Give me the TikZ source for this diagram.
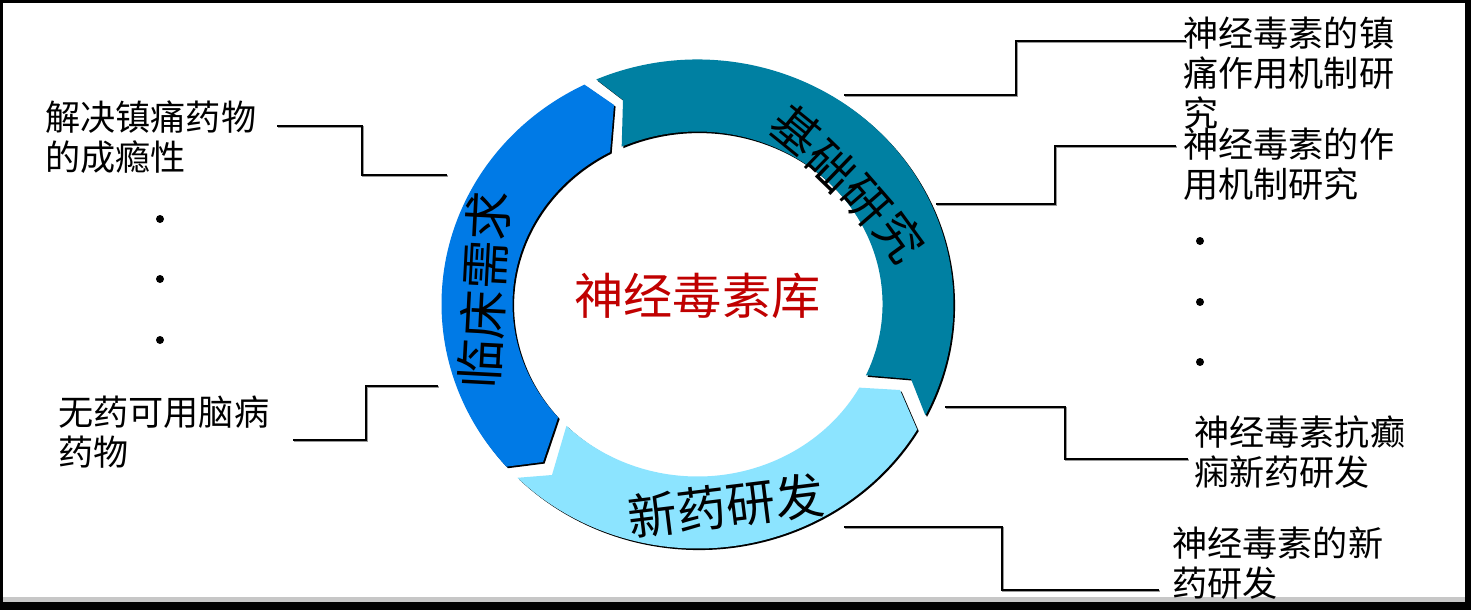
\documentclass[tikz,border=0pt]{standalone}
\usepackage{fontspec}
\setmainfont{Noto Sans CJK SC}
\usetikzlibrary{positioning,shadows}
\definecolor{clinicblue}{RGB}{0,122,230}
\definecolor{basicteal}{RGB}{0,128,162}
\definecolor{drugcyan}{RGB}{140,228,255}
\definecolor{libred}{RGB}{192,0,0}
\tikzstyle{seg} = [drop shadow={shadow xshift=0.9pt, shadow yshift=-0.9pt, fill=black, opacity=1}]
\tikzstyle{ringtext} = [inner sep=0pt, font=\fontsize{28pt}{30pt}\selectfont]
\tikzstyle{note} = [anchor=west, align=left, inner sep=0pt, font=\fontsize{20pt}{22.7pt}\selectfont]
\tikzstyle{link} = [line width=0.8pt, preaction={draw=black!40, line width=0.8pt, transform canvas={xshift=0.6pt, yshift=-0.6pt}}]
\tikzstyle{dot} = [circle, fill=black, inner sep=0pt, minimum size=0.16cm]

\begin{document}
\begin{tikzpicture}[x=0.02cm, y=0.02cm]
\fill[black] (0,0) rectangle (1471,610);
\fill[black!22] (3,8) rectangle (1465,607);
\fill[white] (3,13) rectangle (1465,607);

\begin{scope}[shift={(697.5,306)}]
\fill[clinicblue, seg] (221.7:256 and 244.5) -- (-154.5,-158) -- (221.1:185 and 172.5)
  arc[start angle=221.1, end angle=118.2, x radius=185, y radius=172.5] -- (-83.5,199)
  -- (116.2:256 and 244.5) arc[start angle=116.2, end angle=221.7, x radius=256, y radius=244.5] -- cycle;
\fill[basicteal, seg] (113.3:256 and 244.5)
  arc[start angle=113.3, end angle=-27.1, x radius=256, y radius=244.5] -- (213.5,-75)
  -- (-24.4:185 and 172.5) arc[start angle=-24.4, end angle=114.2, x radius=185, y radius=172.5]
  -- (-74.5,204) -- cycle;
\fill[drugcyan, seg] (-30.9:256 and 244.5) -- (202.5,-86) -- (-29:185 and 172.5)
  arc[start angle=-29, end angle=-135.1, x radius=185, y radius=172.5] -- (-145.5,-171)
  -- (-134.7:256 and 244.5) arc[start angle=-134.7, end angle=-30.9, x radius=256, y radius=244.5] -- cycle;

\foreach \c [count=\i] in {基,础,研,究}
  \node (jichu\i) [ringtext, font=\fontsize{27pt}{29pt}\selectfont, rotate={-34-5*\i}] at ({99.5+34.3*(\i-1)},{174-35.7*(\i-1)}) {\c};
\node (linchuang) [ringtext, rotate=87] at (-213.5,14) {临床需求};
\node (xinyao) [ringtext, rotate=7] at (28.5,-202) {新药研发};
\node (ku) [ringtext, text=libred] at (0,8) {神经毒素库};
\end{scope}

\node (painaddict) [note] at (45,473) {解决镇痛药物\\的成瘾性};
\node (brain) [note] at (58,178) {无药可用脑病\\药物};
\node (analgesic) [note] at (1183,537) {神经毒素的镇\\痛作用机制研\\究};
\node (mechanism) [note] at (1183,445.5) {神经毒素的作\\用机制研究};
\node (epilepsy) [note] at (1194,158) {神经毒素抗癫\\痫新药研发};
\node (newdev) [note] at (1172,46.5) {神经毒素的新\\药研发};

\foreach \y [count=\i] in {391,331,270} \node (ldot\i) [dot] at (160,\y) {};
\foreach \y [count=\i] in {369,308,248} \node (rdot\i) [dot] at (1200,\y) {};

\coordinate (lt1) at (277,484);
\coordinate (lr1) at (447,435);
\coordinate (lt2) at (293,170);
\coordinate (lr2) at (438,224);
\coordinate (rr1) at (844,515);
\coordinate (rt1) at (1186,569);
\coordinate (rr2) at (936,406);
\coordinate (rt2) at (1176,464);
\coordinate (rr3) at (945,203);
\coordinate (rt3) at (1188,151);
\coordinate (rr4) at (844,83);
\coordinate (rt4) at (1159,20);

\draw[link] (lt1) -- ++(85,0) |- (lr1);
\draw[link] (lt2) -- ++(73,0) |- (lr2);
\draw[link] (rr1) -- ++(172,0) |- (rt1);
\draw[link] (rr2) -- ++(119,0) |- (rt2);
\draw[link] (rr3) -- ++(120,0) |- (rt3);
\draw[link] (rr4) -- ++(158,0) |- (rt4);
\end{tikzpicture}
\end{document}
